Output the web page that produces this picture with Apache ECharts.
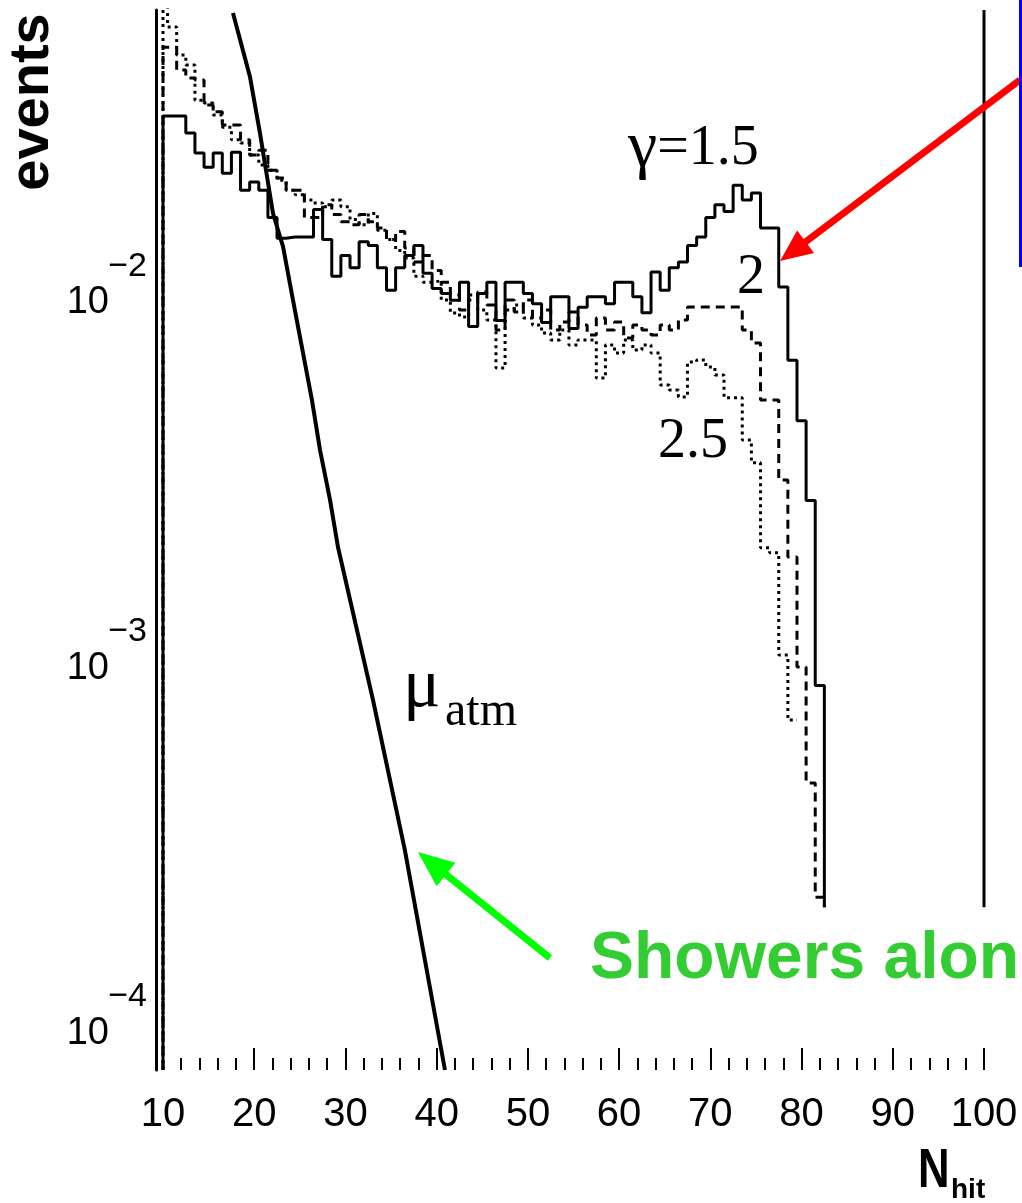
<!DOCTYPE html>
<html>
<head>
<meta charset="utf-8">
<script src="https://cdn.jsdelivr.net/npm/echarts@6/dist/echarts.min.js"></script>
<style>
html,body{margin:0;padding:0;background:#fff;}
#c{width:1022px;height:1203px;}
</style>
</head>
<body>
<div id="c"></div>
<script>
// ---------------- data ----------------
const nhitBins = [10,11,12,13,14,15,16,17,18,19,20,21,22,23,24,25,26,27,28,29,
  30,31,32,33,34,35,36,37,38,39,40,41,42,43,44,45,46,47,48,49,
  50,51,52,53,54,55,56,57,58,59,60,61,62,63,64,65,66,67,68,69,
  70,71,72,73,74,75,76,77,78,79,80,81,82,83];

// gamma = 1.5 (solid)
const gamma15 = [0.0294,0.0294,0.0294,0.0264,0.0233,0.0213,0.0233,0.0205,0.0234,0.0184,
  0.0194,0.0184,0.0155,0.0136,0.0137,0.0137,0.0137,0.0163,0.0135,0.0107,
  0.0122,0.0113,0.0133,0.0130,0.0113,0.0098,0.0113,0.0122,0.0130,0.0109,
  0.0099,0.0096,0.0092,0.0103,0.0078,0.0096,0.0103,0.0081,0.0103,0.0103,
  0.0096,0.0090,0.0080,0.0094,0.0094,0.0077,0.0088,0.0094,0.0094,0.0090,
  0.0103,0.0103,0.0094,0.0085,0.0110,0.0098,0.0113,0.0117,0.0130,0.0137,
  0.0155,0.0168,0.0161,0.0190,0.0173,0.0181,0.0145,0.0145,0.0100,0.0063,
  0.0043,0.0026,0.00081];

// gamma = 2 (dashed)
const gamma20 = [0.0454,0.0454,0.0393,0.0374,0.0369,0.0315,0.0302,0.0278,0.0278,0.0253,
  0.0230,0.0237,0.0209,0.0199,0.0184,0.0184,0.0155,0.0155,0.0168,0.0158,
  0.0151,0.0148,0.0158,0.0151,0.0145,0.0135,0.0142,0.0128,0.0117,0.0122,
  0.0111,0.0103,0.00951,0.00865,0.00921,0.00969,0.00893,0.00762,0.00921,0.00854,
  0.00921,0.00822,0.00865,0.00762,0.00802,0.00854,0.00787,0.00739,0.00822,0.00762,
  0.00802,0.00725,0.00787,0.00762,0.00739,0.00787,0.00762,0.00812,0.00882,0.00882,
  0.00882,0.00882,0.00882,0.00882,0.00762,0.00702,0.00490,0.00490,0.00296,0.00182,
  0.000910,0.000438,0.000213];

// gamma = 2.5 (dotted)
const gamma25 = [0.062,0.0516,0.0432,0.0406,0.0325,0.0319,0.0296,0.0274,0.0253,0.0248,
  0.0230,0.0216,0.0209,0.0196,0.0184,0.0179,0.0173,0.0170,0.0166,0.0173,
  0.0166,0.0153,0.0148,0.0159,0.0143,0.0135,0.0126,0.0120,0.0107,0.0103,
  0.0104,0.00921,0.00849,0.00828,0.00951,0.00865,0.00812,0.00600,0.00865,0.00893,
  0.00822,0.00787,0.00748,0.00716,0.00762,0.00694,0.00716,0.00716,0.00563,0.00694,
  0.00659,0.00716,0.00672,0.00694,0.00659,0.00539,0.00522,0.00500,0.00623,0.00631,
  0.00604,0.00574,0.00497,0.00497,0.00381,0.00330,0.00193,0.00187,0.000981,0.000651];

// atmospheric muons
const muNhit   = [17.67, 19.54, 20.63, 22.06, 23.16, 24.25, 26.33, 27.21, 28.31, 29.18, 33.02, 36.51, 40.91];
const muEvents = [0.0563, 0.0376, 0.0264, 0.0159, 0.0129, 0.00921, 0.00490, 0.00358, 0.00261, 0.00194, 0.000739, 0.000287, 0.0000716];

// axes
const xTicks = [10,20,30,40,50,60,70,80,90,100];
const X_MIN = 10, X_MAX = 100;
const Y_MIN = 7.16e-5, Y_MAX = 0.0574;
const HIST_FLOOR = 0.0002;   // level where histograms / frame line end

// annotations (data coordinates)
const annoAt   = [[60.98, 0.02388], [72.92, 0.01059], [64.26, 0.003763]];
const muLabelAt = [36.31, 0.000739];
const redArrow   = [[103.95, 0.03692], [77.64, 0.01178]];
const greenArrow = [[52.42, 0.0001452], [37.95, 0.0002833]];
const noteAt = [56.81, 0.0001434];
const noteText = 'Showers alon';

// ---------------- build ----------------
function histPath(values, dropToFloor) {
  const pts = [[nhitBins[0], Y_MIN]];
  values.forEach((v, i) => {
    const c = nhitBins[i];
    pts.push([Math.max(c - 0.5, X_MIN), v]);
    pts.push([c + 0.5, v]);
  });
  if (dropToFloor) pts.push([nhitBins[values.length - 1] + 0.5, HIST_FLOOR]);
  return pts;
}

const chart = echarts.init(document.getElementById('c'), null, {renderer: 'canvas'});
const SANS = '"Liberation Sans", Arial, Helvetica, sans-serif';
const SERIF = '"Liberation Serif", "Times New Roman", serif';

const option = {
  animation: false,
  backgroundColor: '#fff',
  grid: {left: 163, right: 38, top: 10, bottom: 133, containLabel: false},
  xAxis: {
    type: 'value', min: X_MIN, max: X_MAX, interval: 10,
    axisLine: {show: false},
    splitLine: {show: false},
    axisTick: {show: true, inside: true, length: 22, lineStyle: {color: '#000', width: 2}},
    minorTick: {show: true, splitNumber: 5, length: 12, lineStyle: {color: '#000', width: 2}},
    minorSplitLine: {show: false},
    axisLabel: {
      color: '#000', fontSize: 40, fontFamily: SANS, margin: 25,
      formatter: v => (xTicks.indexOf(v) >= 0 ? String(v) : '')
    }
  },
  yAxis: {
    type: 'log', logBase: 10, min: Y_MIN, max: Y_MAX, offset: 7,
    axisLine: {show: true, lineStyle: {color: '#000', width: 3}},
    axisTick: {show: false},
    minorTick: {show: false},
    splitLine: {show: false},
    axisLabel: {
      showMinLabel: false, showMaxLabel: false, margin: 9,
      formatter: v => {
        const e = Math.round(Math.log10(v));
        return '{s|' + (e < 0 ? '\u2212' : '') + Math.abs(e) + '}\n{b|10}{sp| }';
      },
      rich: {
        s: {fontSize: 34, lineHeight: 32, fontFamily: SANS, color: '#000'},
        b: {fontSize: 38, lineHeight: 40, fontFamily: SANS, color: '#000'},
        sp: {fontSize: 38, lineHeight: 40, width: 38, fontFamily: SANS, color: '#000'}
      }
    }
  },
  series: [
    {name: 'γ=1.5', type: 'line', data: histPath(gamma15, true), symbol: 'none', showSymbol: false,
     lineStyle: {color: '#000', width: 3}, z: 4},
    {name: 'γ=2', type: 'line', data: histPath(gamma20, true), symbol: 'none', showSymbol: false,
     lineStyle: {color: '#000', width: 3, type: [9, 6]}, z: 3},
    {name: 'γ=2.5', type: 'line', data: histPath(gamma25, false), symbol: 'none', showSymbol: false,
     lineStyle: {color: '#000', width: 3, type: [3, 4]}, z: 3},
    {name: 'μ atm', type: 'line', data: muNhit.map((x, i) => [x, muEvents[i]]), symbol: 'none', showSymbol: false,
     lineStyle: {color: '#000', width: 4}, z: 5},
    {name: 'frame', type: 'line', data: [[X_MAX, Y_MAX], [X_MAX, HIST_FLOOR]], symbol: 'none', showSymbol: false,
     lineStyle: {color: '#000', width: 3}, z: 2}
  ]
};
chart.setOption(option);

// ---------------- annotations ----------------
const px = p => chart.convertToPixel({gridIndex: 0}, p);

function arrowEls(from, to, color, width, headLen, headHalf) {
  const a = px(from), b = px(to);
  const dx = b[0] - a[0], dy = b[1] - a[1];
  const len = Math.sqrt(dx * dx + dy * dy);
  const ux = dx / len, uy = dy / len;
  const nx = -uy, ny = ux;
  const base = [b[0] - ux * headLen, b[1] - uy * headLen];
  return [
    {type: 'line', silent: true, z: 20,
     shape: {x1: a[0], y1: a[1], x2: base[0] + ux * 4, y2: base[1] + uy * 4},
     style: {stroke: color, lineWidth: width, lineCap: 'butt'}},
    {type: 'polygon', silent: true, z: 20,
     shape: {points: [b, [base[0] + nx * headHalf, base[1] + ny * headHalf], [base[0] - nx * headHalf, base[1] - ny * headHalf]]},
     style: {fill: color}}
  ];
}

const g = [];
const p0 = px(annoAt[0]);
g.push({type: 'text', x: p0[0], y: p0[1], z: 20, silent: true,
  style: {text: '{g|γ}{t|=1.5}', align: 'left', verticalAlign: 'middle',
    rich: {g: {fontSize: 66, fontFamily: SERIF, fill: '#000', lineHeight: 60},
           t: {fontSize: 56, fontFamily: SERIF, fill: '#000', lineHeight: 60}}}});
const p1 = px(annoAt[1]);
g.push({type: 'text', x: p1[0], y: p1[1], z: 20, silent: true,
  style: {text: '2', font: '56px ' + SERIF, fill: '#000', align: 'left', verticalAlign: 'middle'}});
const p2 = px(annoAt[2]);
g.push({type: 'text', x: p2[0], y: p2[1], z: 20, silent: true,
  style: {text: '2.5', font: '56px ' + SERIF, fill: '#000', align: 'left', verticalAlign: 'middle'}});

const mp = px(muLabelAt);
g.push({type: 'text', x: mp[0], y: mp[1] - 12, z: 20, silent: true,
  style: {text: 'μ', font: '70px ' + SERIF, fill: '#000', align: 'left', verticalAlign: 'middle'}});
g.push({type: 'text', x: mp[0] + 42, y: mp[1] + 12, z: 20, silent: true,
  style: {text: 'atm', font: '48px ' + SERIF, fill: '#000', align: 'left', verticalAlign: 'middle'}});

arrowEls(redArrow[0], redArrow[1], '#ff0000', 7, 32, 14).forEach(e => g.push(e));
arrowEls(greenArrow[0], greenArrow[1], '#00ff00', 7, 36, 15).forEach(e => g.push(e));

const np = px(noteAt);
g.push({type: 'text', x: np[0], y: np[1], z: 20, silent: true,
  style: {text: noteText, font: 'bold 66px ' + SANS, fill: '#33cc33', align: 'left', verticalAlign: 'middle'}});

// axis titles
g.push({type: 'text', x: 33, y: 102, rotation: Math.PI / 2, z: 20, silent: true,
  style: {text: 'events', font: 'bold 56px ' + SANS, fill: '#000', align: 'center', verticalAlign: 'middle'}});
g.push({type: 'text', x: 918, y: 1172, scaleX: 0.78, z: 20, silent: true,
  style: {text: 'N', font: 'bold 56px ' + SANS, fill: '#000', align: 'left', verticalAlign: 'middle'}});
g.push({type: 'text', x: 951, y: 1190, z: 20, silent: true,
  style: {text: 'hit', font: 'bold 28px ' + SANS, fill: '#000', align: 'left', verticalAlign: 'middle'}});

// edge of neighbouring slide box
g.push({type: 'line', silent: true, z: 20, shape: {x1: 1020.5, y1: 0, x2: 1020.5, y2: 267},
  style: {stroke: '#0000ff', lineWidth: 3}});

chart.setOption({graphic: g});
</script>
</body>
</html>
